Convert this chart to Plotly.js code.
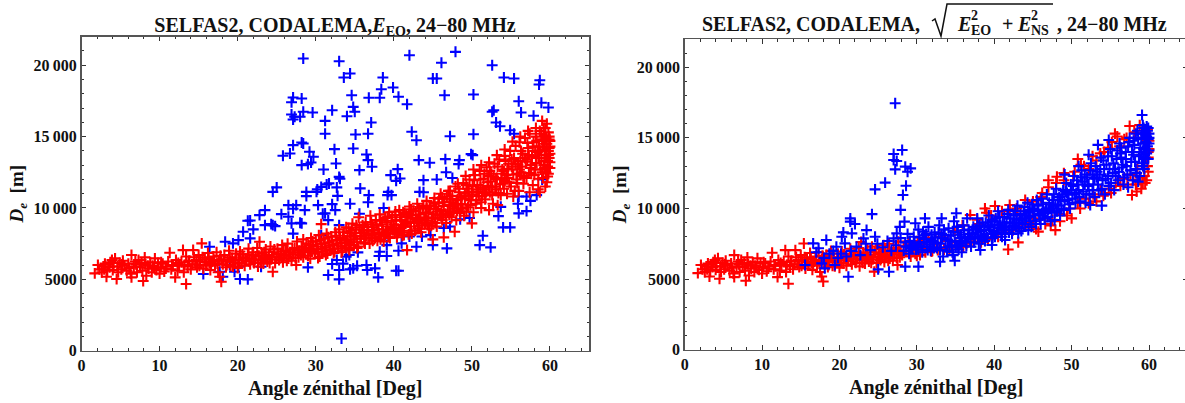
<!DOCTYPE html>
<html><head><meta charset="utf-8">
<script src="https://cdn.plot.ly/plotly-3.0.1.min.js"></script>
<style>html,body{margin:0;padding:0;background:#fff;overflow:hidden;width:1185px;height:403px}#c{width:1190px;height:403px}</style>
</head><body><div id="c"></div>
<script>
// [zenith angle in degrees, De in metres]
const redShared=[[1.7,5420],[2.1,6000],[2.3,5700],[2.6,5500],[2.8,5900],[3.0,6100],[3.2,5180],[3.3,5600],[3.6,5850],[3.7,6200],[3.9,6350],[4.0,5650],[4.3,6470],[4.5,5020],[4.6,5900],[4.9,6150],[5.1,5700],[5.3,6300],[5.5,5950],[5.8,5600],[6.0,6100],[6.3,5400],[6.4,6700],[6.4,5140],[6.7,5900],[6.9,6250],[7.1,5500],[7.3,6350],[7.5,5850],[7.8,5600],[7.9,4880],[8.1,6540],[8.2,6050],[8.3,5250],[8.6,5750],[8.8,6200],[9.0,5500],[9.1,5950],[9.4,6470],[9.6,5650],[9.8,6150],[10.0,5400],[10.1,5850],[10.4,6100],[10.6,5550],[10.9,5900],[11.1,6250],[11.3,6860],[11.5,5700],[11.7,6000],[12.0,5140],[12.1,6350],[12.3,5600],[12.5,5950],[12.8,6200],[13.0,7050],[13.1,5500],[13.4,4670],[13.4,6600],[13.6,5900],[13.8,6300],[14.0,5700],[14.3,7050],[14.4,6550],[14.6,6050],[14.8,5850],[15.0,6700],[15.2,6250],[15.4,7520],[15.6,5750],[15.8,6400],[16.0,6000],[16.2,6850],[16.4,6150],[16.5,5650],[16.7,6250],[16.9,6600],[17.1,6000],[17.3,6900],[17.5,5500],[17.6,6300],[17.7,5180],[17.9,4830],[17.9,6400],[18.1,6050],[18.3,6700],[18.5,5850],[18.7,6250],[18.9,7000],[19.1,5950],[19.3,6500],[19.5,6200],[19.8,6800],[20.0,5800],[20.1,6350],[20.3,6950],[20.5,6100],[20.7,6550],[20.9,5950],[21.1,6300],[21.3,6750],[21.4,7150],[21.6,6050],[21.8,6450],[22.0,6900],[22.1,6150],[22.3,6600],[22.5,7200],[22.6,5900],[22.8,7630],[22.9,6350],[23.1,6800],[23.3,6100],[23.5,6550],[23.6,7100],[23.8,6250],[24.0,6700],[24.2,7300],[24.3,6400],[24.5,5530],[24.6,6900],[24.8,6150],[25.0,6550],[25.1,7150],[25.3,6350],[25.5,6800],[25.7,7400],[25.8,6200],[26.0,6650],[26.2,7000],[26.4,7500],[26.5,6450],[26.7,6900],[26.9,6300],[27.1,6750],[27.3,7200],[27.5,6000],[27.6,7650],[27.8,6550],[27.9,7000]];
const redSharedFill=[[2.9,5700],[3.5,6050],[4.1,5900],[4.7,5500],[5.2,6050],[6.1,5800],[7.0,6050],[7.7,6150],[8.5,5950],[9.3,5800],[10.2,6200],[10.8,5750],[11.6,5950],[12.4,6150],[13.2,6000],[13.7,6250],[14.2,6050],[14.7,6350],[15.1,5950],[15.5,6550],[15.9,6200],[16.3,6500],[16.6,5950],[17.0,6350],[17.4,6100],[17.8,6650],[18.2,6350],[18.6,6000],[19.0,6550],[19.4,5900],[19.7,6350],[20.2,6150],[20.6,6750],[21.0,6450],[21.5,6250],[21.9,6700],[22.2,6400],[22.7,6650],[23.0,6150],[23.4,6900],[23.7,6450],[24.1,6150],[24.4,6600],[24.7,7100],[25.2,6750],[25.6,6550],[25.9,6950],[26.3,6300],[26.6,6750],[27.0,7100],[27.4,6500],[27.7,6900]];
const redLeftHigh=[[28.1,6700],[28.2,7300],[28.4,7800],[28.6,6900],[28.8,7500],[29.0,6650],[29.2,7150],[29.4,7900],[29.5,6950],[29.7,7400],[29.9,6800],[30.0,7650],[30.2,7100],[30.4,8100],[30.5,6600],[30.7,8870],[30.7,7500],[30.9,6950],[31.0,7850],[31.2,7250],[31.4,8200],[31.5,6800],[31.7,7600],[31.9,7050],[32.0,8000],[32.2,7400],[32.4,6950],[32.5,8300],[32.7,7750],[32.9,7150],[33.0,8500],[33.2,7550],[33.4,7000],[33.5,8050],[33.7,7350],[33.9,8650],[34.0,7750],[34.2,7200],[34.4,8250],[34.5,7600],[34.7,8900],[34.9,7400],[35.0,8050],[35.2,8500],[35.4,7300],[35.5,9350],[35.7,7850],[35.9,8250],[36.0,8800],[36.2,7600],[36.4,9000],[36.5,8050],[36.7,8450],[36.9,7500],[37.0,9450],[37.2,7900],[37.4,8650],[37.5,8200],[37.7,9150],[37.9,7700],[38.0,8500],[38.2,9550],[38.4,8000],[38.5,8850],[38.7,7650],[38.9,9300],[39.0,8300],[39.2,8700],[39.4,9700],[39.5,7900],[39.7,9100],[39.9,8450],[40.0,8850],[40.2,9500],[40.4,7950],[40.5,8250],[40.7,9850],[40.9,8600],[41.0,9150],[41.2,8300],[41.4,9650],[41.5,8900],[41.7,7050],[41.7,9400],[41.9,8150],[42.0,10100],[42.2,8700],[42.4,9300],[42.5,9800],[42.7,8400],[42.9,9050],[43.0,10300],[43.2,8750],[43.4,9550],[43.5,8300],[43.7,10000],[43.9,9200],[44.0,8900],[44.2,10500],[44.4,9700],[44.5,8550],[44.7,10150],[44.9,9300],[45.0,7800],[45.0,9000],[45.2,10700],[45.4,9950],[45.5,8700],[45.7,10350],[45.9,9500],[46.0,11000],[46.2,9150],[46.4,7940],[46.4,10150],[46.5,10650],[46.7,8950],[46.9,9750],[47.0,11200],[47.2,10400],[47.4,9350],[47.5,10850],[47.7,9950],[47.8,8330],[47.9,11500],[48.0,9150],[48.2,10600],[48.4,11100],[48.5,9650],[48.7,10250],[48.9,11750],[49.0,9450],[49.2,10850],[49.4,11350],[49.5,10050],[49.7,12000],[49.9,10550],[50.0,8920],[50.0,11150],[50.2,9700],[50.4,12300],[50.5,10300],[50.7,11600],[50.9,10850],[51.0,12600],[51.2,10000],[51.4,11300],[51.5,12050],[51.7,10600],[51.9,12850],[52.0,11800],[52.2,9850],[52.3,11100],[52.5,12400],[52.7,10300],[52.9,13100],[53.0,11500],[53.2,12100],[53.3,10200],[53.5,13400],[53.7,10900],[53.9,12700],[54.0,11700],[54.2,13650],[54.4,12300],[54.5,11000],[54.7,13100],[54.9,14000],[55.0,11500],[55.2,12700],[55.3,10800],[55.4,13500],[55.6,14350],[55.7,12000],[55.9,13050],[56.0,11200],[56.1,14600],[56.3,12500],[56.5,13800],[56.6,11700],[56.8,14900],[56.9,13250],[57.0,12100],[57.2,14200],[57.4,11100],[57.4,15200],[57.5,12800],[57.7,13600],[57.8,11600],[57.9,14600],[58.0,12300],[58.2,15000],[58.3,13150],[58.4,13900],[58.5,11300],[58.6,14300],[58.7,11100],[58.7,15400],[58.8,12700],[58.9,13500],[59.0,16100],[59.0,14800],[59.1,12100],[59.2,13000],[59.2,15600],[59.3,14100],[59.4,11500],[59.4,15100],[59.5,12500],[59.5,13700],[59.6,11800],[59.6,14500],[59.6,15900],[59.7,13300],[59.7,12900],[59.8,12400],[59.8,15300],[59.8,14000],[59.9,14800],[59.9,13500],[60.0,14300],[60.0,13800],[59.9,15000],[59.3,14500],[58.1,14000],[57.1,13400],[56.2,13300],[55.1,12900],[54.1,12600],[53.1,12000],[52.1,12250],[51.1,11450],[50.1,11500],[49.1,11000],[48.1,10550],[47.1,10200],[46.1,9850],[45.1,9550],[44.1,9350],[43.1,9150],[42.1,9000],[41.1,8800],[40.1,8600],[39.1,8450],[38.1,8250],[37.1,8100],[54.6,12100],[55.8,12400],[57.6,12400],[56.4,12900],[53.8,12050],[52.6,11450],[51.6,11050],[49.6,10800],[48.6,10250],[47.6,9700]];
const redLeftFill=[[28.3,7050],[28.7,7200],[29.1,7400],[29.3,7000],[29.6,7650],[30.1,7300],[30.3,6900],[30.6,7750],[30.8,7150],[31.1,7500],[31.3,7000],[31.6,7950],[31.8,7350],[32.1,7700],[32.3,7150],[32.6,8050],[32.8,7500],[33.1,7900],[33.3,7300],[33.6,8300],[33.8,7600],[34.1,8000],[34.3,7450],[34.6,8400],[34.8,7800],[35.1,8250],[35.3,7600],[35.6,8650],[35.8,8000],[36.1,8400],[36.3,7850],[36.6,8700],[36.8,8150],[37.1,9000],[37.3,8400],[37.6,7900],[37.8,8750],[38.1,8150],[38.3,9150],[38.6,8500],[38.8,8050],[39.1,9000],[39.3,8200],[39.6,8600],[39.8,9350],[40.1,8200],[40.3,9100],[40.6,8450],[40.8,9350],[41.1,8050],[41.3,8700],[41.6,9550],[41.8,9000],[42.1,8400],[42.3,9500],[42.6,8950],[42.8,9750],[43.1,8550],[43.3,9300],[43.6,8950],[43.8,10150],[44.1,9650],[44.3,9100],[44.6,9950],[44.8,8750],[45.1,10400],[45.3,9250],[45.6,9750],[45.8,10650],[46.1,9350],[46.3,10400],[46.6,9600],[46.8,10800],[47.1,9500],[47.3,10650],[47.6,10100],[47.9,10300],[48.1,9800],[48.3,11350],[48.6,10750],[48.8,9950],[49.1,10650],[49.3,11600],[49.6,11100],[49.8,10200],[50.1,10950],[50.3,11950],[50.6,10550],[50.8,11300],[51.1,12000],[51.3,10850],[51.6,12400],[51.8,11100],[52.1,11550],[52.3,12600],[52.6,10900],[52.8,12200],[53.1,11300],[53.3,12900],[53.6,11650],[53.8,12400],[54.1,11350],[54.3,13300],[54.6,12750],[54.8,11800],[55.1,13400],[55.3,12350],[55.6,13100],[55.8,11750],[56.1,12700],[56.3,14000],[56.6,12250],[56.8,13500],[57.1,14550],[57.3,12450],[57.6,13000],[57.8,14300],[58.1,12700],[58.3,14700],[58.5,12050],[58.6,13500],[58.8,14000],[59.0,12500],[59.1,14300],[59.3,13300],[59.4,15600],[59.5,14900],[59.7,12200],[59.8,13700],[59.9,14200],[60.0,14700],[60.0,13200],[60.0,12800],[59.3,12800],[58.9,15200],[58.2,13500],[57.3,13700],[56.7,12100],[55.5,11200],[54.2,11900],[53.4,11050],[52.4,11850],[51.2,10400],[50.6,11100],[49.3,9750],[48.3,9950],[47.3,9700],[46.3,9500],[45.3,8950],[44.3,8800],[43.3,8550],[42.3,8200],[41.3,8100],[40.3,8350],[39.3,8000],[38.3,7800],[37.3,7700],[36.3,7500],[35.3,7200],[34.3,7050],[33.3,6900],[32.3,6850],[31.3,6700],[30.3,6500],[29.3,6450],[28.4,6550],[49.2,12250],[48.2,11700],[47.2,11200],[46.2,10750],[45.2,10300],[44.2,10000],[43.2,9950],[42.2,9900],[41.2,9700],[40.2,9750],[39.2,9400],[38.2,9100],[37.2,8850],[36.2,8650],[35.2,8800],[34.2,8600],[50.2,12700],[51.2,13000],[52.2,13200],[53.2,13700],[54.2,14100],[55.2,14650],[56.2,15000],[57.2,15400],[58.2,15600],[59.2,14800]];
const blueLeft=[[28.4,20470],[33.0,20280],[42.0,20700],[47.9,20940],[46.1,20170],[52.6,20000],[34.4,19420],[33.6,19140],[38.6,19140],[45.0,19070],[45.5,19070],[54.1,19140],[55.4,19070],[58.7,18950],[58.6,18650],[39.9,18440],[38.4,18320],[34.6,17900],[36.8,17720],[38.2,17720],[40.6,17790],[41.7,17270],[46.5,17900],[50.2,17950],[56.0,17480],[58.9,17370],[59.8,17040],[27.1,17740],[28.2,17670],[26.9,17410],[29.6,16690],[28.4,16740],[26.9,16550],[27.3,16390],[28.0,16390],[27.1,16200],[31.2,16100],[31.2,15200],[28.2,14590],[28.4,14520],[27.1,14400],[29.2,13940],[26.7,13820],[25.8,13660],[29.7,13590],[29.4,13190],[29.0,13070],[28.2,13000],[31.0,12700],[31.4,11650],[30.7,11480],[25.0,11440],[24.5,11130],[28.8,11130],[30.1,11130],[28.8,10830],[34.8,17080],[35.0,16740],[32.1,16850],[34.0,16430],[37.1,15990],[52.8,16850],[52.6,16740],[56.3,16690],[57.9,16460],[53.1,15990],[53.6,15730],[54.9,15450],[55.4,15200],[35.1,15150],[36.7,15200],[42.3,15340],[42.9,14750],[47.2,15030],[50.2,15170],[32.4,14120],[34.8,14170],[36.5,13750],[36.7,13350],[37.2,12890],[43.2,13350],[44.6,13170],[46.6,13420],[48.4,13350],[48.3,13070],[49.9,13770],[50.1,13700],[32.6,13120],[35.6,12650],[40.5,12720],[39.6,12300],[33.0,12180],[33.1,12050],[40.8,12070],[40.3,11900],[43.8,11950],[31.7,11720],[32.7,11440],[35.7,11370],[30.2,11300],[39.3,11130],[39.2,10900],[39.7,10900],[36.8,10900],[32.8,10850],[43.8,11100],[43.3,11130],[46.7,12500],[47.5,12100],[45.5,12000],[56.0,10800],[57.0,10800],[57.5,10500],[58.3,10900],[59.0,12000],[23.5,9850],[22.8,9500],[21.3,9100],[21.6,9120],[25.6,9570],[26.5,9380],[26.5,10200],[27.5,10200],[27.1,9950],[28.6,9850],[26.9,8920],[28.0,8960],[24.3,8870],[24.8,8730],[24.5,8800],[23.5,8800],[20.7,8330],[22.0,8500],[21.6,7870],[18.4,7630],[20.1,7750],[19.4,7520],[16.4,7280],[30.3,10200],[30.9,9600],[31.6,9150],[27.1,8200],[30.7,8100],[29.0,5840],[31.6,5300],[23.0,5880],[21.3,5000],[20.3,5020],[18.1,5180],[15.6,5370],[19.6,5530],[19.0,6000],[20.1,5880],[17.7,5530],[33.3,860],[33.0,5000],[33.0,5650],[33.5,6100],[34.4,5700],[32.1,6070],[32.7,6350],[33.9,6580],[34.3,6700],[35.4,6890],[34.8,5770],[35.3,5950],[36.5,6000],[36.6,5650],[37.6,5770],[38.0,5140],[38.2,6930],[38.1,6630],[39.1,6630],[39.1,7400],[40.6,7000],[40.3,5600],[40.6,5600],[41.0,7520],[42.9,7280],[45.0,7400],[46.8,7170],[51.0,7400],[52.4,7240],[51.4,8050],[54.0,8640],[54.9,8640],[53.4,9430],[56.0,9620],[57.0,9780],[55.9,10300],[53.7,10080],[31.2,9620],[32.5,9850],[33.0,8800],[28.2,8920],[35.6,9600],[34.4,10300],[32.1,10270],[36.7,10400],[38.7,10000],[48.5,9200],[49.7,9300],[43.6,8000],[44.7,8100],[42.0,8000],[46.4,8600],[47.2,8700]];
const redRightHigh=[[28.1,6700],[28.3,7350],[28.6,6950],[28.9,7600],[29.2,6600],[29.5,7200],[29.8,6800],[30.1,7700],[30.4,6700],[30.8,7300],[31.1,6900],[31.5,7900],[31.9,6950],[32.3,7500],[32.7,7050],[33.1,8000],[33.5,7100],[34.0,7700],[34.5,7250],[34.9,8400],[35.4,7350],[35.9,8800],[36.4,7500],[36.9,9540],[37.3,7650],[37.8,9200],[38.3,7600],[38.8,10000],[39.2,7800],[39.6,9500],[40.1,10170],[40.5,8000],[41.0,9800],[41.4,8300],[41.8,7100],[42.0,10250],[42.4,8450],[42.9,10000],[43.1,7600],[43.5,8600],[44.0,10600],[44.5,8800],[45.0,10500],[45.4,8550],[45.7,8360],[46.2,11100],[46.6,8900],[47.0,12000],[47.3,8800],[47.9,8470],[48.1,12250],[48.5,9100],[49.0,12500],[49.4,9500],[50.0,9300],[50.4,12600],[50.8,13500],[51.1,10000],[51.6,13000],[52.2,10360],[52.7,13700],[53.2,10500],[53.7,13900],[54.1,10900],[54.7,14300],[55.1,11100],[55.6,15300],[55.9,15100],[56.3,11600],[56.8,14900],[57.2,11700],[57.5,15840],[57.8,10950],[58.1,15400],[58.4,11200],[58.8,15900],[59.0,11400],[59.2,15000],[59.4,12300],[59.6,15400],[59.7,12000],[59.8,13000],[59.8,15600],[59.9,13600],[60.0,14200],[60.0,14800],[59.9,12600],[59.5,11800]];
const redRightFill=[[29.0,7000],[30.0,6650],[31.0,7200],[32.0,7000],[33.0,7150],[34.2,7100],[35.0,7600],[36.0,7300],[37.0,7900],[38.0,8900],[39.0,9700],[40.0,8200],[41.0,8600],[42.0,9900],[43.0,9800],[44.0,9000],[45.0,9300],[46.0,10800],[47.0,11500],[47.5,9200],[48.0,11800],[48.5,9600],[49.0,12000],[49.7,10000],[50.2,12300],[50.8,10400],[51.2,13100],[51.8,10700],[52.2,12800],[52.8,11000],[53.2,13400],[53.8,11300],[54.2,14000],[54.8,11400],[55.2,14700],[55.7,11800],[56.2,14400],[56.7,12100],[57.1,15000],[57.6,12400],[58.0,12000],[58.5,12800],[58.9,12200],[59.3,13000],[59.6,13500],[59.9,14000],[59.2,11800],[58.3,11700]];
const blueRight=[[27.2,17450],[28.1,14140],[27.0,13860],[27.0,13430],[27.4,13360],[27.2,12770],[28.5,12960],[29.2,12840],[28.8,12600],[28.6,11610],[25.9,11830],[24.6,11350],[28.2,10950],[27.9,9900],[15.55,6000],[16.6,7530],[17.3,7180],[18.3,7770],[20.3,8000],[20.5,8310],[21.4,9300],[21.4,9070],[22.0,8900],[21.6,8240],[24.2,9600],[23.5,8470],[23.1,7880],[24.6,8000],[21.15,5170],[25.0,5690],[26.4,5520],[18.1,5760],[19.4,6000],[17.7,6110],[19.6,7290],[20.7,7530],[27.0,7880],[27.4,8240],[27.8,8700],[17.0,6900],[18.0,6500],[18.7,6800],[19.2,7000],[19.8,6500],[20.2,6800],[20.9,6600],[21.5,7000],[22.2,7300],[22.7,6700],[23.4,7500],[24.0,7050],[24.9,7500],[25.6,7250],[26.2,7700],[26.7,7000],[27.3,7400],[27.9,7900],[28.4,9070],[28.5,5880],[30.2,5880],[29.8,8950],[31.05,9300],[33.2,9300],[35.1,9660],[33.0,6230],[34.9,6300],[34.7,6700],[38.2,7060],[39.7,7410],[41.4,7770],[43.1,8240],[44.4,8470],[47.8,9180],[52.4,10250],[53.9,10200],[58.6,11900],[57.3,11500],[59.1,16620],[59.7,15800],[54.8,14850],[53.4,14500],[50.9,13000],[52.2,13800],[49.1,12400],[28.3,7000],[28.5,7600],[28.8,8200],[29.0,6800],[29.3,7400],[29.6,8000],[29.9,7100],[30.2,8500],[30.4,7600],[30.7,6900],[31.0,8100],[31.3,7300],[31.5,8700],[31.8,7000],[32.0,7700],[32.3,8300],[32.6,7200],[32.9,8800],[33.1,7500],[33.4,6600],[33.6,8100],[33.9,7000],[34.1,8600],[34.3,7700],[34.6,6900],[34.8,9100],[35.0,7300],[35.3,8300],[35.5,7900],[35.8,6900],[36.0,8800],[36.3,7600],[36.5,9300],[36.8,8200],[37.0,7300],[37.3,8700],[37.5,7900],[37.8,9300],[38.0,7500],[38.3,8400],[38.5,9000],[38.8,7700],[39.0,8200],[39.3,9500],[39.5,8700],[39.8,7900],[40.0,9100],[40.3,8300],[40.5,9800],[40.8,8800],[41.0,8000],[41.3,9400],[41.5,8500],[41.8,9900],[42.0,9000],[42.3,8200],[42.5,9500],[42.8,8700],[43.0,10200],[43.3,9200],[43.5,8400],[43.8,9800],[44.0,8900],[44.3,10400],[44.5,9400],[44.8,8700],[45.0,10000],[45.3,9100],[45.5,10600],[45.8,9600],[46.0,8900],[46.3,10300],[46.5,9300],[46.8,11000],[47.0,9900],[47.3,9100],[47.5,10600],[47.8,9700],[48.0,11400],[48.3,10200],[48.5,9500],[48.8,11000],[49.0,9900],[49.3,11800],[49.5,10600],[49.8,10000],[50.0,11300],[50.3,12300],[50.5,10400],[50.8,11700],[51.0,10800],[51.3,12700],[51.5,11200],[51.8,10400],[52.0,12200],[52.3,11000],[52.5,13200],[52.8,11700],[53.0,10800],[53.3,12600],[53.5,11300],[53.8,13600],[54.0,12000],[54.3,11000],[54.5,13100],[54.8,11600],[55.0,14200],[55.3,12500],[55.5,11300],[55.8,13500],[56.0,12000],[56.2,14600],[56.5,12900],[56.7,11700],[57.0,14000],[57.2,12400],[57.5,15000],[57.7,13300],[57.9,12000],[58.1,14500],[58.3,12800],[58.5,15500],[58.7,13700],[58.8,12300],[59.0,15000],[59.1,13200],[59.2,15900],[59.3,14200],[59.4,12800],[59.5,15400],[59.5,13600],[59.6,14700],[59.7,15100],[59.7,13900],[59.8,14400],[59.8,15500],[59.9,14900],[59.9,13500],[60.0,14600],[60.0,15300],[58.9,14300],[58.0,13800],[57.1,13000],[56.4,13600],[55.6,12800],[54.7,12300],[53.6,12400],[52.7,12400],[51.7,11700],[50.6,11100],[49.6,11000],[48.6,10600],[47.6,10200],[46.6,9800],[45.6,9900],[44.6,9900],[43.6,9300],[42.6,9000],[41.6,9000],[40.6,8600],[39.6,8200],[38.6,8100],[37.6,8300],[36.6,8000],[35.6,7500],[34.4,8100],[33.3,7900],[32.2,7600],[30.9,7600]];
const blueRightFill=[[28.6,7300],[29.1,7700],[29.4,7150],[29.7,7550],[30.1,7350],[30.3,7950],[30.6,7250],[30.8,8350],[31.2,7850],[31.4,7050],[31.7,7450],[31.9,8150],[32.1,7250],[32.4,7950],[32.7,7550],[32.8,8300],[33.0,7050],[33.5,8500],[33.7,7250],[34.0,7800],[34.5,7350],[34.7,8350],[34.9,7650],[35.2,8700],[35.4,7100],[35.7,8150],[35.9,7700],[36.1,8450],[36.4,7350],[36.7,8500],[36.9,7800],[37.2,8150],[37.4,7600],[37.7,8550],[37.9,8000],[38.1,8800],[38.4,7800],[38.7,8500],[38.9,9000],[39.1,7950],[39.4,8500],[39.7,9200],[39.9,8400],[40.1,8000],[40.4,8850],[40.7,9400],[40.9,8200],[41.1,9000],[41.4,8700],[41.7,9600],[41.9,8300],[42.1,9300],[42.4,8800],[42.7,9800],[42.9,9200],[43.2,8600],[43.4,9600],[43.7,8900],[43.9,10100],[44.1,9300],[44.4,9700],[44.7,9100],[44.9,10300],[45.1,9500],[45.4,8900],[45.7,10200],[45.9,9200],[46.1,10700],[46.4,9700],[46.7,10000],[46.9,9400],[47.1,10400],[47.4,9800],[47.7,11000],[47.9,10300],[48.1,9800],[48.4,10800],[48.7,10000],[48.9,11300],[49.1,10500],[49.4,11100],[49.7,10300],[49.9,11700],[50.1,10700],[50.4,11000],[50.7,12000],[50.9,11300],[51.1,10500],[51.4,11900],[51.7,12400],[51.9,11000],[52.1,11600],[52.4,12700],[52.7,11300],[52.9,12100],[53.1,13000],[53.4,11700],[53.7,12800],[53.9,11400],[54.1,13400],[54.4,12100],[54.7,13700],[54.9,12800],[55.1,11800],[55.4,13200],[55.7,12300],[55.9,14100],[56.1,12600],[56.4,14300],[56.6,13100],[56.8,12200],[57.0,13500],[57.3,14400],[57.6,12700],[57.8,14000],[58.0,14800],[58.2,13300],[58.4,12500],[58.6,14900],[58.8,14000],[59.0,13800],[59.1,15300],[59.2,13000],[59.3,15700],[59.4,14600],[59.5,14200],[59.6,15200],[59.7,14600],[59.8,13500],[59.9,15700],[60.0,14100],[60.0,15000],[59.3,13500],[58.3,15300],[57.4,14700],[56.3,13900],[55.2,13700],[54.2,12800],[53.2,12200],[52.2,11700],[51.2,12200],[50.2,11600],[49.2,11200],[48.2,10600],[47.2,10000],[46.2,9500],[45.2,9800],[44.2,9500],[43.2,9000],[42.2,8500],[41.2,8500],[40.2,9300],[39.2,8800],[38.2,8000],[37.2,8500],[36.2,7900],[35.2,7400],[34.2,7300],[33.2,8200],[32.2,7200],[31.2,8200],[30.2,7100],[29.2,7200]];

const xTicks=[0,10,20,30,40,50,60];
const yTickVals=[0,5000,10000,15000,20000];
const yTickText=['0','5000','10\u2009000','15\u2009000','20\u2009000'];
const titleLeft='SELFAS2, CODALEMA,<i>E</i><sub>EO</sub>, 24\u221280 MHz';

const W=1190,H=403,ink='#111';
const blue='#0000ff',red='#ff0000';
function series(points,color,xa,ya){return{type:'scatter',mode:'markers',x:points.map(p=>p[0]),y:points.map(p=>p[1]),xaxis:xa,yaxis:ya,showlegend:false,hoverinfo:'skip',cliponaxis:true,marker:{symbol:'cross-thin',size:7.8,color:color,line:{color:color,width:2.1}}}}
const font={family:'"Liberation Serif",serif',size:16,color:ink};
const tickFont={...font,size:16,weight:'bold'};
function xAxis(l,r,anchor){return{domain:[l/W,r/W],range:[0,65],anchor:anchor,tickmode:'array',tickvals:xTicks,ticks:'inside',ticklen:4.5,tickwidth:1,tickcolor:'#333',minor:{dtick:2,tick0:0,ticks:'inside',ticklen:2.5,tickwidth:1,tickcolor:'#333'},mirror:'ticks',showline:true,linecolor:'#555',linewidth:1.5,showgrid:false,zeroline:false,tickfont:tickFont,title:{text:'<b>Angle zénithal [Deg]</b>',font:{...font,size:20},standoff:7},automargin:false}}
function yAxis(t,b,anchor){return{domain:[1-b/H,1-t/H],range:[0,22000],anchor:anchor,tickmode:'array',tickvals:yTickVals,ticktext:yTickText,ticks:'inside',ticklen:4.5,tickwidth:1,tickcolor:'#333',minor:{dtick:1000,tick0:0,ticks:'inside',ticklen:2.5,tickwidth:1,tickcolor:'#333'},mirror:'ticks',showline:true,linecolor:'#555',linewidth:1.5,showgrid:false,zeroline:false,tickfont:tickFont,title:{text:'<b><i>D</i><sub><i>e</i></sub>  [m]</b>',font:{...font,size:19},standoff:5},automargin:false}}
const boldFont=s=>({family:'"Liberation Serif",serif',size:s,color:ink});
function piece(text,px,py,size){return{text:'<b>'+text+'</b>',x:px/W,y:1-py/H,xref:'paper',yref:'paper',xanchor:'left',yanchor:'middle',showarrow:false,borderpad:0,font:boldFont(size)}}
const annotations=[
 piece('SELFAS2, CODALEMA,',701,24,20),
 piece('<i>E</i>',956,24,20),piece('2',970,15,14),piece('EO',970,31,14),
 piece('+',1001,24,20),
 piece('<i>E</i>',1016,24,20),piece('2',1030,15,14),piece('NS',1030,31,14),
 piece(', 24\u221280 MHz',1056,24,20)
];
const rad=[[932,21],[935,19],[941,36],[947,4],[1053,4]].map(p=>(p[0]/W)+','+(1-p[1]/H));
const shapes=[{type:'path',xref:'paper',yref:'paper',path:'M'+rad.join(' L'),line:{color:ink,width:1.5}}];
const layout={width:W,height:H,margin:{l:0,r:0,t:0,b:0,autoexpand:false},paper_bgcolor:'#fff',plot_bgcolor:'#fff',font:font,showlegend:false,
 title:{text:'<b>'+titleLeft+'</b>',font:boldFont(20),x:335/W,xanchor:'center',xref:'paper',y:1-25/H,yanchor:'middle',yref:'paper'},
 xaxis:xAxis(81.5,589,'y'),yaxis:yAxis(36.7,350.7,'x'),xaxis2:xAxis(684.7,1187.7,'y2'),yaxis2:yAxis(39,349.7,'x2'),annotations:annotations,shapes:shapes};
const data=[series(blueLeft,blue,'x','y'),series(redShared.concat(redSharedFill,redLeftHigh,redLeftFill),red,'x','y'),series(redShared.concat(redSharedFill,redRightHigh,redRightFill),red,'x2','y2'),series(blueRight.concat(blueRightFill),blue,'x2','y2')];
Plotly.newPlot('c',data,layout,{staticPlot:true,displayModeBar:false});
</script></body></html>
